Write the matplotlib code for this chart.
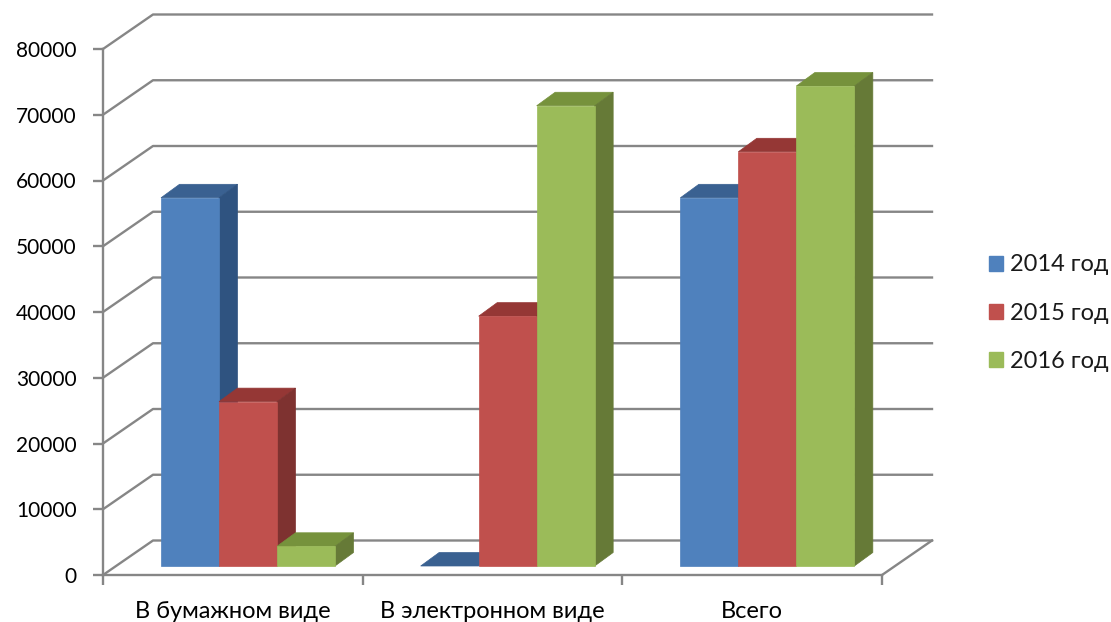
from matplotlib import pyplot as plt
from matplotlib.patches import Patch, Polygon

categories = ['В бумажном виде', 'В электронном виде', 'Всего']
years = ['2014 год', '2015 год', '2016 год']
values_2014 = [56000, 0, 56000]
values_2015 = [25000, 38000, 63000]
values_2016 = [3000, 70000, 73000]
y_ticks = [0, 10000, 20000, 30000, 40000, 50000, 60000, 70000, 80000]

front_colors = ['#4F81BD', '#C0504D', '#9BBB59']
side_colors = ['#2F5380', '#7E3230', '#667A37']
top_colors = ['#3A6191', '#953735', '#76923C']
grid_color = '#868686'

plt.rcParams['font.family'] = ['Lato', 'DejaVu Sans']
plt.rcParams['text.color'] = '#1a1a1a'

fig = plt.figure(figsize=(11.11, 6.22), dpi=100)
ax = fig.add_axes([103 / 1111, 47 / 622, 779 / 1111, 526 / 622])
ax.set_xlim(0, 3)
ax.set_ylim(0, 80000)

# sizes of the fake 3d box, pixels turned into data units
px_x = 3 / 779
px_y = 80000 / 526
wall_dx, wall_dy = 50 * px_x, 34.5 * px_y
bar_dx, bar_dy = 18.5 * px_x, 13.5 * px_y
bar_width = 58 * px_x
bar_start = 58 * px_x
bar_base = 9 * px_y

# walls and floor
for v in y_ticks:
    ax.plot([0, wall_dx, 3 + wall_dx], [v, v + wall_dy, v + wall_dy],
            color=grid_color, lw=1.7, clip_on=False, zorder=1)
ax.plot([3, 3 + wall_dx], [0, wall_dy], color=grid_color, lw=1.7, clip_on=False, zorder=1)


def draw_bar(x, value, n):
    x1 = x + bar_width
    y0 = bar_base
    y1 = bar_base + value
    top = [(x, y1), (x1, y1), (x1 + bar_dx, y1 + bar_dy), (x + bar_dx, y1 + bar_dy)]
    ax.add_patch(Polygon(top, color=top_colors[n], lw=0.5, clip_on=False, zorder=3))
    if value == 0:
        return
    side = [(x1, y0), (x1 + bar_dx, y0 + bar_dy), (x1 + bar_dx, y1 + bar_dy), (x1, y1)]
    ax.add_patch(Polygon(side, color=side_colors[n], lw=0.5, clip_on=False, zorder=3))
    front = [(x, y0), (x1, y0), (x1, y1), (x, y1)]
    ax.add_patch(Polygon(front, color=front_colors[n], lw=0.5, clip_on=False, zorder=3))


for i in range(len(categories)):
    for n, values in enumerate([values_2014, values_2015, values_2016]):
        draw_bar(i + bar_start + n * bar_width, values[i], n)

for side in ['top', 'right']:
    ax.spines[side].set_visible(False)
for side in ['left', 'bottom']:
    ax.spines[side].set_color(grid_color)
    ax.spines[side].set_linewidth(1.7)

ax.set_yticks(y_ticks)
ax.set_xticks([0, 1, 2, 3])
ax.set_xticklabels([])
ax.set_xticks([0.5, 1.5, 2.5], minor=True)
ax.set_xticklabels(categories, minor=True)
ax.tick_params(axis='x', which='major', length=7, width=1.7, color=grid_color)
ax.tick_params(axis='x', which='minor', length=0, pad=19, labelsize=17)
ax.tick_params(axis='y', length=7, width=1.7, color=grid_color, pad=12, labelsize=15)

handles = [Patch(color=c) for c in front_colors]
fig.legend(handles, years, loc='center left', bbox_to_anchor=(989 / 1111, 1 - 313 / 622),
           frameon=False, handlelength=0.6, handleheight=0.6, handletextpad=0.3,
           labelspacing=1.15, borderpad=0, borderaxespad=0, fontsize=17)

plt.savefig('out.png', dpi=100)
